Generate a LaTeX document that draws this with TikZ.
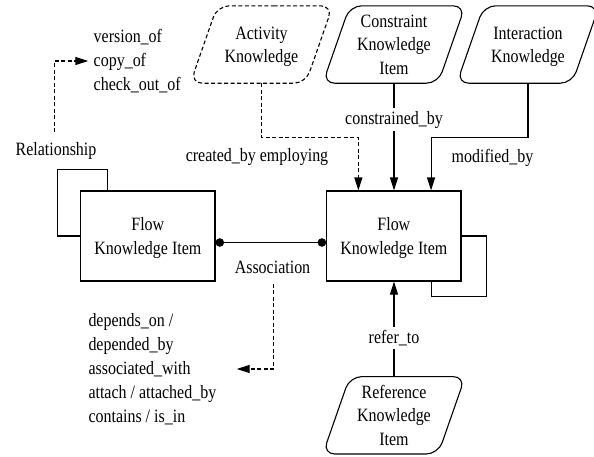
\documentclass[tikz,border=0pt]{standalone}
\usepackage{fontspec}
\setmainfont{Liberation Serif}[FakeStretch=0.85]
\usetikzlibrary{arrows.meta}

% outline of a knowledge shape: a slanted box with rounded corners
\newcommand\knowoutline[2][]{%
  \draw[conn,rounded corners=12pt,#1] (#2.north) -- (#2.north east)
    -- ([xshift=-27pt]#2.south east) -- (#2.south west)
    -- ([xshift=27pt]#2.north west) -- cycle;}
% taller first line, to sit two-line texts a little lower
\newcommand\tallline{\rule{0pt}{17pt}}

\begin{document}
\begin{tikzpicture}[x=1pt,y=-1pt,
  every node/.style={font=\fontsize{18.8}{23.5}\selectfont},
  conn/.style={line width=1.1pt},
  arr/.style={conn,-{Triangle[length=13pt,width=8pt]}},
  dashpat/.style={dash pattern=on 4pt off 2.5pt},
  itembox/.style={draw,line width=1.1pt,minimum width=134.3pt,
    minimum height=90pt,align=center,inner sep=0pt},
  knowshape/.style={minimum width=142pt,minimum height=77pt,
    inner sep=0pt,align=center},
  lbl/.style={inner sep=0pt},
  cutlbl/.style={fill=white,inner xsep=2pt,inner ysep=3pt},
  listtext/.style={align=left,anchor=west,inner sep=0pt,
    font=\fontsize{18.8}{24}\selectfont},
  assoc/.style={conn,{Circle[length=8.5pt]}-{Circle[length=8.5pt]}}
]
\useasboundingbox (0,0) rectangle (594,456);

% knowledge sources around the flow item
\node[knowshape] (act)   at (261.5,44.5) {\tallline Activity\\Knowledge};
\node[knowshape] (cons)  at (394,44.5)   {Constraint\\Knowledge\\Item};
\node[knowshape] (inter) at (528,44.5)   {\tallline Interaction\\Knowledge};
\node[knowshape] (refk)  at (394,415.3)  {Reference\\Knowledge\\Item};
\knowoutline[dashpat]{act}
\knowoutline{cons}
\knowoutline{inter}
\knowoutline{refk}

% flow knowledge items
\node[itembox] (lf) at (147.85,236) {\tallline Flow\\Knowledge Item};
\node[itembox] (rf) at (393.85,236) {\tallline Flow\\Knowledge Item};

% incoming links of the right item
\draw[arr,dashpat] (act.south) -- ++(0,54.3) -| ([xshift=-35.5pt]rf.north);
\node[lbl] (crelbl) at (257,157.5) {created\_by employing};
\draw[arr] (cons.south) -- node[cutlbl,pos=0.34] (conlbl) {constrained\_by}
  (cons.south |- rf.north);
\draw[arr] (inter.south) -- ++(0,54) -| ([xshift=37.2pt]rf.north);
\node[lbl] (modlbl) at (492.5,157.5) {modified\_by};
\draw[arr] (refk.north) -- node[cutlbl,pos=0.405] (reflbl) {refer\_to}
  (refk.north |- rf.south);

% self loops
\draw[conn] (rf.east) -- ++(24.7,0) -- ++(0,60.7) -| ([xshift=37.85pt]rf.south);
\draw[conn] (lf.west) -- ++(-23,0) -- ++(0,-66.7) -| ([xshift=-40.55pt]lf.north);

% association between the two items
\draw[assoc] ([yshift=-6.5pt]lf.east) -- ([yshift=-6.5pt]rf.west);
\node[lbl] (asc) at (272.5,267) {Association};
\coordinate (deptip) at (236.7,369);
\draw[arr,dashpat] ([xshift=0.8pt,yshift=-10pt]asc.south) |- (deptip);
\node[listtext] (dep) at (88.3,369.3)
  {depends\_on /\\depended\_by\\associated\_with\\attach / attached\_by\\contains / is\_in};

% relationship kinds
\node[lbl] (rel) at (56,150.5) {Relationship};
\coordinate (vertip) at (88.3,61);
\draw[arr,dashpat] ([xshift=-1.7pt,yshift=9.5pt]rel.north) |- (vertip);
\node[listtext] (ver) at (93.5,61.5) {version\_of\\copy\_of\\check\_out\_of};
\end{tikzpicture}
\end{document}
